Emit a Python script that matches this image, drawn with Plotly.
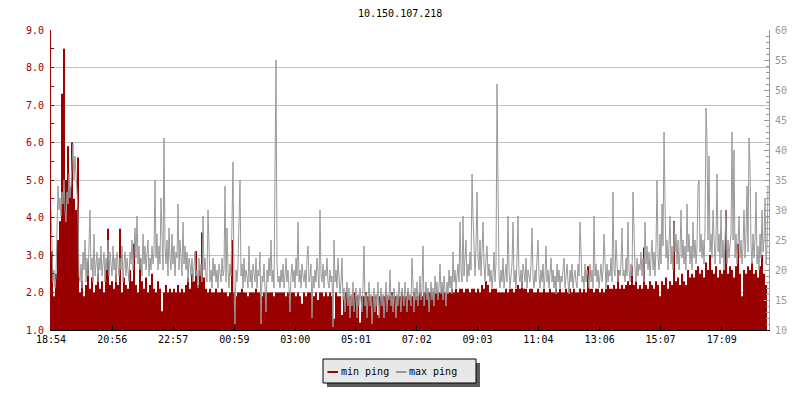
import plotly.graph_objects as go
import pandas as pd

title_text = "10.150.107.218"
start_time = "2024-01-01 18:54"
min_step_seconds = 238.84
max_step_seconds = 119.42
span_minutes = 1429
tick_labels = ["18:54", "20:56", "22:57", "00:59", "03:00", "05:01",
               "07:02", "09:03", "11:04", "13:06", "15:07", "17:09"]
series_names = ["min ping", "max ping"]

min_ping = [
    3.1, 1.9, 2.5, 3.4, 3.9, 7.3, 8.5, 5.0, 5.9, 4.8,
    6.0, 4.5, 4.2, 5.6, 2.0, 2.3, 1.9, 2.2, 2.8, 2.1,
    2.4, 2.0, 2.2, 2.5, 2.1, 2.3, 2.0, 2.6, 3.7, 2.2,
    2.3, 2.1, 2.5, 2.2, 3.7, 2.0, 2.4, 2.2, 2.1, 2.6,
    2.3, 3.3, 2.2, 2.0, 2.9, 2.3, 2.1, 2.4, 2.0, 2.2,
    2.5, 2.1, 2.0, 2.3, 2.1, 1.5, 2.0, 2.2, 2.0, 2.1,
    2.0, 2.1, 2.0, 2.2, 2.0, 2.1, 2.0, 2.2, 2.4, 2.1,
    2.5, 2.3, 3.1, 2.2, 2.6, 3.6, 2.4, 2.1, 2.0, 2.1,
    2.0, 2.0, 2.1, 2.0, 2.0, 2.1, 2.0, 2.0, 1.9, 2.0,
    3.4, 2.0, 1.9, 2.0, 2.0, 2.1, 2.0, 2.0, 1.9, 2.0,
    2.0, 2.0, 2.1, 2.0, 2.0, 1.9, 2.0, 2.0, 2.0, 2.0,
    2.0, 1.9, 2.0, 2.0, 2.0, 2.0, 2.0, 1.9, 2.0, 2.0,
    2.0, 2.0, 1.9, 2.0, 1.9, 1.7, 2.0, 1.9, 2.0, 2.0,
    2.0, 1.9, 2.0, 1.8, 2.0, 2.0, 1.9, 2.0, 1.9, 2.0,
    1.9, 1.3, 2.0, 1.9, 1.9, 1.4, 1.9, 2.0, 1.9, 1.9,
    1.9, 2.0, 1.9, 1.9, 1.2, 1.9, 1.9, 2.0, 1.9, 1.9,
    1.9, 1.9, 1.9, 1.4, 1.9, 1.9, 1.9, 2.0, 1.9, 1.9,
    2.0, 1.9, 1.9, 1.9, 1.9, 2.0, 1.9, 1.9, 2.0, 1.9,
    1.9, 2.0, 1.9, 1.9, 2.0, 1.9, 2.0, 2.0, 2.0, 2.0,
    2.0, 2.0, 2.0, 2.0, 2.0, 2.1, 2.0, 2.0, 2.0, 2.0,
    2.1, 2.0, 2.1, 2.0, 2.1, 2.1, 2.0, 2.1, 2.1, 2.0,
    2.1, 2.1, 2.0, 2.1, 2.0, 2.2, 2.1, 2.3, 2.2, 2.0,
    2.1, 2.1, 2.1, 2.0, 2.0, 2.0, 2.0, 2.1, 2.0, 2.1,
    2.1, 2.0, 2.1, 2.2, 2.1, 2.3, 2.1, 2.1, 2.0, 2.1,
    2.1, 2.0, 2.0, 2.1, 2.0, 2.0, 2.1, 2.0, 2.0, 2.1,
    2.0, 2.0, 2.1, 2.0, 2.1, 2.0, 2.0, 2.1, 2.0, 2.1,
    2.0, 2.1, 2.0, 2.0, 2.1, 2.0, 2.1, 2.0, 2.7, 2.1,
    2.1, 2.0, 2.1, 2.1, 2.0, 2.1, 2.0, 2.1, 2.2, 2.1,
    2.1, 2.2, 2.1, 2.6, 2.1, 2.2, 2.1, 2.2, 2.3, 2.2,
    2.7, 2.2, 2.3, 2.1, 2.2, 2.1, 3.2, 2.2, 2.1, 2.3,
    2.2, 2.1, 2.3, 2.2, 1.9, 2.3, 2.2, 2.4, 2.1, 2.3,
    2.2, 3.9, 2.3, 2.4, 2.2, 2.5, 2.3, 2.2, 2.6, 2.4,
    2.5, 2.4, 2.6, 2.7, 2.5, 2.6, 2.4, 2.8, 2.6, 3.0,
    2.6, 2.5, 2.7, 2.4, 2.6, 2.5, 2.6, 4.2, 2.5, 2.7,
    2.6, 2.4, 2.7, 3.3, 2.5, 1.9, 2.6, 2.5, 2.7, 2.6,
    2.8, 2.5, 2.6, 2.4, 2.7, 3.0, 2.5, 2.2, 3.8,
]

max_ping = [
    30, 22, 18, 20, 17, 19, 26, 34, 30, 32,
    29, 33, 31, 35, 30, 28, 33, 31, 36, 32,
    34, 37, 41, 35, 39, 36, 33, 30, 19, 18,
    21, 17, 23, 20, 25, 18, 22, 19, 24, 30,
    20, 22, 18, 26, 19, 21, 23, 18, 22, 20,
    24, 19, 21, 23, 18, 22, 20, 25, 19, 23,
    21, 19, 24, 20, 22, 18, 23, 21, 19, 22,
    20, 24, 18, 21, 23, 19, 22, 20, 18, 23,
    21, 25, 20, 23, 27, 22, 29, 21, 24, 20,
    22, 19, 26, 21, 24, 20, 23, 25, 19, 22,
    20, 24, 21, 23, 35, 22, 26, 20, 24, 21,
    32, 23, 20, 42, 24, 21, 25, 19, 27, 22,
    20, 26, 21, 24, 19, 23, 22, 31, 20, 25,
    22, 19, 28, 21, 24, 20, 23, 18, 22, 21,
    19, 22, 18, 21, 23, 19, 20, 17, 22, 19,
    21, 18, 29, 20, 22, 19, 18, 30, 21, 18,
    20, 17, 22, 19, 21, 18, 20, 17, 21, 19,
    18, 22, 19, 20, 34, 18, 27, 20, 17, 21,
    19, 28, 38, 17, 11, 20, 18, 21, 32, 35,
    19, 21, 17, 22, 18, 20, 19, 17, 24, 18,
    20, 17, 21, 19, 18, 22, 17, 20, 19, 23,
    11, 19, 18, 21, 17, 13, 20, 18, 22, 19,
    25, 18, 20, 17, 36, 55, 21, 18, 19, 17,
    20, 18, 21, 17, 19, 22, 18, 20, 17, 13,
    19, 21, 18, 20, 17, 22, 19, 28, 18, 20,
    17, 21, 19, 18, 20, 17, 22, 24, 18, 19,
    21, 12, 19, 17, 20, 18, 22, 19, 17, 30,
    19, 18, 21, 17, 20, 19, 22, 18, 17, 20,
    18, 19, 10.5, 25, 18, 20, 17, 22, 19, 16,
    18, 22, 15, 17, 13, 16, 18, 14, 17, 12,
    16, 14, 18, 13, 15, 17, 12, 16, 14, 17,
    15, 13, 17, 24, 14, 16, 12, 15, 18, 14,
    16, 11, 15, 17, 13, 16, 14, 18, 12, 15,
    17, 14, 16, 12, 15, 18, 13, 16, 15, 20,
    14, 16, 13, 17, 15, 12, 16, 14, 18, 15,
    13, 17, 15, 14, 18, 16, 13, 17, 15, 16,
    14, 22, 16, 13, 17, 15, 18, 14, 16, 19,
    15, 17, 24, 14, 16, 18, 15, 17, 13, 16,
    18, 15, 17, 14, 19, 16, 18, 15, 17, 21,
    16, 18, 15, 19, 17, 14, 18, 16, 20, 17,
    19, 16, 23, 18, 20, 17, 19, 21, 18, 28,
    20, 18, 29, 19, 22, 25, 18, 21, 19, 23,
    20, 36, 29, 22, 19, 24, 33, 22, 20, 25,
    19, 23, 28, 21, 18, 22, 24, 19, 21, 18,
    20, 17, 19, 23, 18, 21, 51, 34, 19, 17,
    20, 18, 22, 17, 19, 21, 18, 29, 20, 17,
    19, 21, 28, 18, 20, 17, 22, 29, 19, 18,
    20, 17, 21, 19, 18, 22, 17, 20, 19, 18,
    21, 27, 19, 17, 20, 18, 22, 25, 19, 17,
    20, 18, 21, 17, 19, 24, 18, 20, 17, 19,
    22, 18, 20, 17, 19, 16, 21, 18, 20, 17,
    19, 18, 20, 22, 17, 19, 21, 18, 16, 20,
    18, 21, 17, 19, 20, 18, 17, 21, 19, 28,
    20, 18, 19, 17, 21, 18, 20, 19, 17, 21,
    18, 20, 17, 29, 19, 21, 18, 20, 17, 19,
    21, 18, 20, 26, 19, 17, 21, 18, 20, 19,
    22, 18, 33, 20, 19, 25, 21, 18, 20, 19,
    21, 27, 19, 20, 18, 22, 19, 28, 20, 18,
    21, 19, 33, 25, 20, 18, 22, 19, 21, 20,
    23, 19, 22, 18, 28, 21, 24, 20, 23, 19,
    22, 25, 20, 23, 19, 24, 35, 22, 20, 26,
    21, 31, 24, 43, 31, 22, 25, 20, 24, 29,
    21, 24, 20, 28, 23, 26, 21, 25, 20, 23,
    30, 22, 25, 21, 24, 20, 31, 23, 26, 21,
    24, 20, 28, 22, 25, 21, 24, 34, 35, 23,
    26, 22, 25, 21, 27, 47, 41, 25, 39, 23,
    26, 22, 30, 24, 21, 25, 36, 23, 26, 21,
    30, 22, 25, 20, 24, 30, 21, 25, 22, 24,
    26, 43, 25, 40, 22, 26, 21, 24, 29, 22,
    25, 21, 24, 30, 22, 26, 34, 23, 42, 37,
    24, 21, 26, 22, 25, 33, 21, 24, 20, 26,
    22, 30, 23, 25, 32, 21, 24, 34,
]

# ---------- styling ----------
RED = "#990000"
GRAY = "#999999"
FONT = "DejaVu Sans Mono"
W, H = 800, 400
L, R, T, B = 51, 31, 30, 70
PW, PH = W - L - R, H - T - B


def px(xp):
    return (xp - L) / PW


def py(yp):
    return (H - B - yp) / PH


t0 = pd.Timestamp(start_time)
x_min = pd.date_range(t0, periods=len(min_ping), freq=pd.Timedelta(seconds=min_step_seconds))
x_max = pd.date_range(t0, periods=len(max_ping), freq=pd.Timedelta(seconds=max_step_seconds))

# tick positions from the tick labels (day rolls over after midnight)
tick_vals = []
day = t0.normalize()
prev = None
for lab in tick_labels:
    hh, mm = map(int, lab.split(":"))
    if prev is not None and hh < prev:
        day = day + pd.Timedelta(days=1)
    prev = hh
    tick_vals.append(day + pd.Timedelta(hours=hh, minutes=mm))

fig = go.Figure()
fig.add_trace(go.Scatter(
    x=x_min, y=min_ping, name=series_names[0], mode="lines",
    line=dict(color=RED, width=0, shape="hv"), fill="tozeroy",
    fillcolor=RED, yaxis="y", showlegend=False, hoverinfo="skip"))
fig.add_trace(go.Scatter(
    x=x_max, y=max_ping, name=series_names[1], mode="lines",
    line=dict(color=GRAY, width=1, shape="linear"),
    yaxis="y2", showlegend=False, hoverinfo="skip"))

fig.update_layout(
    width=W, height=H,
    margin=dict(l=L, r=R, t=T, b=B),
    paper_bgcolor="white", plot_bgcolor="white",
    font=dict(family=FONT, size=10, color="black"),
    xaxis=dict(
        type="date",
        range=[t0, t0 + pd.Timedelta(minutes=span_minutes)],
        tickvals=tick_vals, ticktext=tick_labels,
        ticks="inside", ticklen=4, tickcolor="black",
        showline=True, linecolor="black", linewidth=1,
        showgrid=False, zeroline=False,
        tickfont=dict(family=FONT, size=10, color="black"),
    ),
    yaxis=dict(
        range=[1, 9], dtick=1, tick0=1, tickformat=".1f",
        ticks="inside", ticklen=3, tickcolor=RED,
        minor=dict(dtick=0.5, ticks="inside", ticklen=3, tickcolor=RED),
        showline=True, linecolor=RED, linewidth=1,
        showgrid=True, gridcolor="#c0c0c0", gridwidth=1,
        zeroline=False, ticklabelstandoff=4,
        tickfont=dict(family=FONT, size=10, color=RED),
    ),
    yaxis2=dict(
        range=[10, 60], dtick=5, tick0=10,
        overlaying="y", side="right",
        ticks="inside", ticklen=5, tickcolor=GRAY,
        minor=dict(dtick=1, ticks="inside", ticklen=3, tickcolor=GRAY),
        showline=True, linecolor=GRAY, linewidth=1,
        showgrid=False, zeroline=False, ticklabelstandoff=3,
        tickfont=dict(family=FONT, size=10, color=GRAY),
    ),
)

# title
fig.add_annotation(text=title_text, xref="paper", yref="paper",
                   x=px(400), y=py(13), xanchor="center", yanchor="middle",
                   showarrow=False, font=dict(family=FONT, size=10, color="black"))

# custom legend box with shadow
shapes = [
    dict(type="rect", xref="paper", yref="paper",
         x0=px(327), x1=px(480), y0=py(363), y1=py(387),
         fillcolor="#5c5c5c", line=dict(width=0), layer="above"),
    dict(type="rect", xref="paper", yref="paper",
         x0=px(323), x1=px(476), y0=py(359), y1=py(383),
         fillcolor="#e8e8e8", line=dict(color="black", width=1), layer="above"),
    dict(type="line", xref="paper", yref="paper",
         x0=px(327.5), x1=px(338), y0=py(372), y1=py(372),
         line=dict(color=RED, width=2), layer="above"),
    dict(type="line", xref="paper", yref="paper",
         x0=px(396), x1=px(406.5), y0=py(372), y1=py(372),
         line=dict(color=GRAY, width=2), layer="above"),
]
fig.update_layout(shapes=shapes)
for name, xpos in zip(series_names, [341, 409]):
    fig.add_annotation(text=name, xref="paper", yref="paper",
                       x=px(xpos), y=py(371), xanchor="left", yanchor="middle",
                       showarrow=False, xshift=-2,
                       font=dict(family=FONT, size=10, color="black"))

fig.write_html("out.html",
               config={"displayModeBar": False},
               post_script="document.body.style.margin='0';document.body.style.overflow='hidden';")
